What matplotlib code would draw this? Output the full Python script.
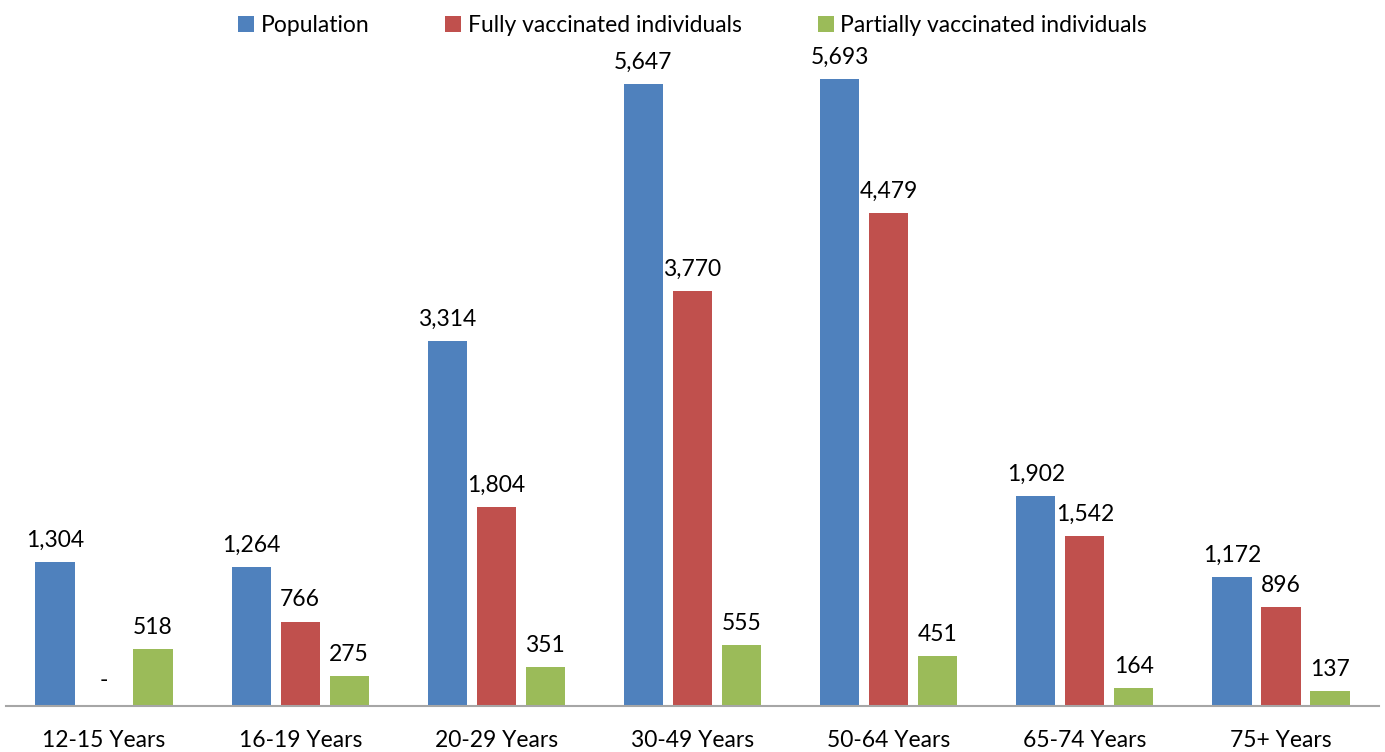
import matplotlib.pyplot as plt
import numpy as np

plt.rcParams['font.family'] = ['Lato', 'DejaVu Sans']

categories = ["12-15 Years", "16-19 Years", "20-29 Years", "30-49 Years",
              "50-64 Years", "65-74 Years", "75+ Years"]
population = [1304, 1264, 3314, 5647, 5693, 1902, 1172]
fully = [0, 766, 1804, 3770, 4479, 1542, 896]
partially = [518, 275, 351, 555, 451, 164, 137]

series = [("Population", population, "#4F81BD"),
          ("Fully vaccinated individuals", fully, "#C0504D"),
          ("Partially vaccinated individuals", partially, "#9BBB59")]

fig = plt.figure(figsize=(13.85, 7.52), dpi=100)
ax = fig.add_axes([0.0043, 0.0612, 0.9914, 0.879])

x = np.arange(len(categories))
width = 0.2
step = 0.25
fs = 16.5

for i, (name, vals, color) in enumerate(series):
    pos = x + (i - 1) * step
    ax.bar(pos, vals, width, color=color, label=name)
    for px, v in zip(pos, vals):
        txt = "-" if v == 0 else f"{v:,}"
        off = 11 if v == 0 else 8
        ax.annotate(txt, (px, v), xytext=(0, off), textcoords="offset points",
                    ha="center", va="bottom", fontsize=fs)

ax.set_xlim(-0.5, 6.5)
ax.set_ylim(0, 6000)
ax.set_xticks(x)
ax.set_xticklabels(categories, fontsize=fs)
ax.tick_params(axis="x", length=0, pad=17)
ax.set_yticks([])
for s in ["top", "right", "left"]:
    ax.spines[s].set_visible(False)
ax.spines["bottom"].set_color("#A6A6A6")
ax.spines["bottom"].set_linewidth(1.5)

leg = fig.legend(loc="upper center", bbox_to_anchor=(0.5, 1.008), ncol=3,
                 frameon=False, fontsize=fs, handlelength=0.7, handleheight=0.7,
                 handletextpad=0.3, columnspacing=3.3)

fig.savefig("out.png", dpi=100)
